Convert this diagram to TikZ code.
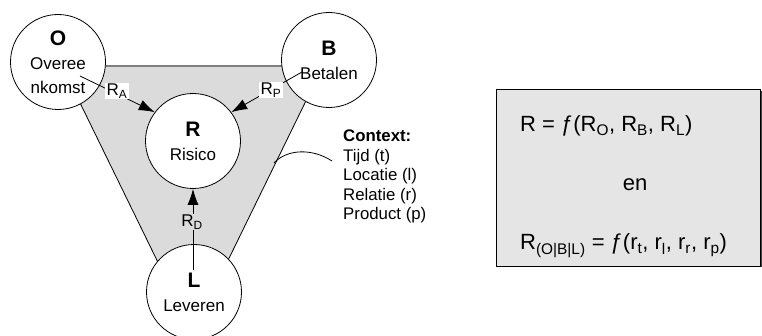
\documentclass[tikz,border=0pt]{standalone}
\usepackage{fontspec}
\setmainfont{Liberation Sans}
\usetikzlibrary{arrows.meta}

\definecolor{trifill}{gray}{0.86}
\definecolor{boxfill}{gray}{0.90}
\definecolor{topedge}{gray}{0.50}

\newcommand{\partyname}[1]{{\fontsize{21}{24}\selectfont\bfseries #1}}

\begin{document}
\begin{tikzpicture}[x=1pt,y=-1pt,
  party/.style={circle,draw=black,fill=white,line width=0.8pt,minimum size=95pt,
                inner sep=0pt,align=center,font=\fontsize{17}{24}\selectfont},
  riskarrow/.style={draw=black,line width=0.8pt,-{Latex[length=16pt,width=11pt]}},
  plainline/.style={draw=black,line width=0.8pt},
  flowlabel/.style={inner sep=1.2pt,font=\fontsize{17}{20}\selectfont},
  ctxline/.style={anchor=base west,inner sep=0pt,font=\fontsize{16.8}{20}\selectfont},
  formula/.style={anchor=base west,inner sep=0pt,font=\fontsize{22}{26}\selectfont}]

\useasboundingbox (0,0) rectangle (762,336);

% shaded triangle between the three parties
\coordinate (tl) at (62,66);
\coordinate (tr) at (323,66);
\coordinate (tb) at (192.5,333);
\fill[trifill] (tl) -- (tr) -- (tb) -- cycle;
\draw[black,line width=0.8pt] (tl) -- (tb) -- (tr);
\draw[topedge,line width=1.8pt] (tl) -- (tr);

% parties and the central risk
\node[party] (O) at (58,62)  {\partyname{O}\\Overee\\nkomst};
\node[party] (B) at (329,60) {\partyname{B}\\Betalen};
\node[party] (R) at (193,141) {\partyname{R}\\Risico};
\node[party] (L) at (194,292) {\partyname{L}\\Leveren};

% start points of the risk flows inside the party circles
\coordinate (oa) at (80,76);
\coordinate (bp) at (302,72);
\coordinate (ld) at (193,270);

\draw[riskarrow] (oa) -- (R.143);
\draw[riskarrow] (bp) -- (R.37);
\draw[riskarrow] (ld) -- (R.south);

\node[flowlabel,fill=white] (ra) at (117,91) {R\textsubscript{A}};
\node[flowlabel,fill=white] (rp) at (271,90) {R\textsubscript{P}};
\node[flowlabel,fill=trifill] (rd) at (192,222) {R\textsubscript{D}};

% context dimensions
\node[ctxline] (c0) at (343,142)   {\textbf{Context:}};
\node[ctxline] (c1) at (343,161.5) {Tijd (t)};
\node[ctxline] (c2) at (343,181)   {Locatie (l)};
\node[ctxline] (c3) at (343,200.5) {Relatie (r)};
\node[ctxline] (c4) at (343,220)   {Product (p)};
\coordinate (cs) at (274,163);
\coordinate (ce) at (332,161);
\draw[plainline] (cs) .. controls (287,149) and (312,148) .. (ce);

% formula box
\fill[black!75] (498,91) rectangle (761.5,267.5);
\draw[fill=boxfill,line width=0.8pt] (496,89) rectangle (760,266);
\node[formula] (f1) at (520,132) {R = ƒ(R\textsubscript{O}, R\textsubscript{B}, R\textsubscript{L})};
\node[formula,anchor=base] (en) at (635,191) {en};
\node[formula] (f2) at (520,250) {R\textsubscript{(O|B|L)} = ƒ(r\textsubscript{t}, r\textsubscript{l}, r\textsubscript{r}, r\textsubscript{p})};
\end{tikzpicture}
\end{document}
